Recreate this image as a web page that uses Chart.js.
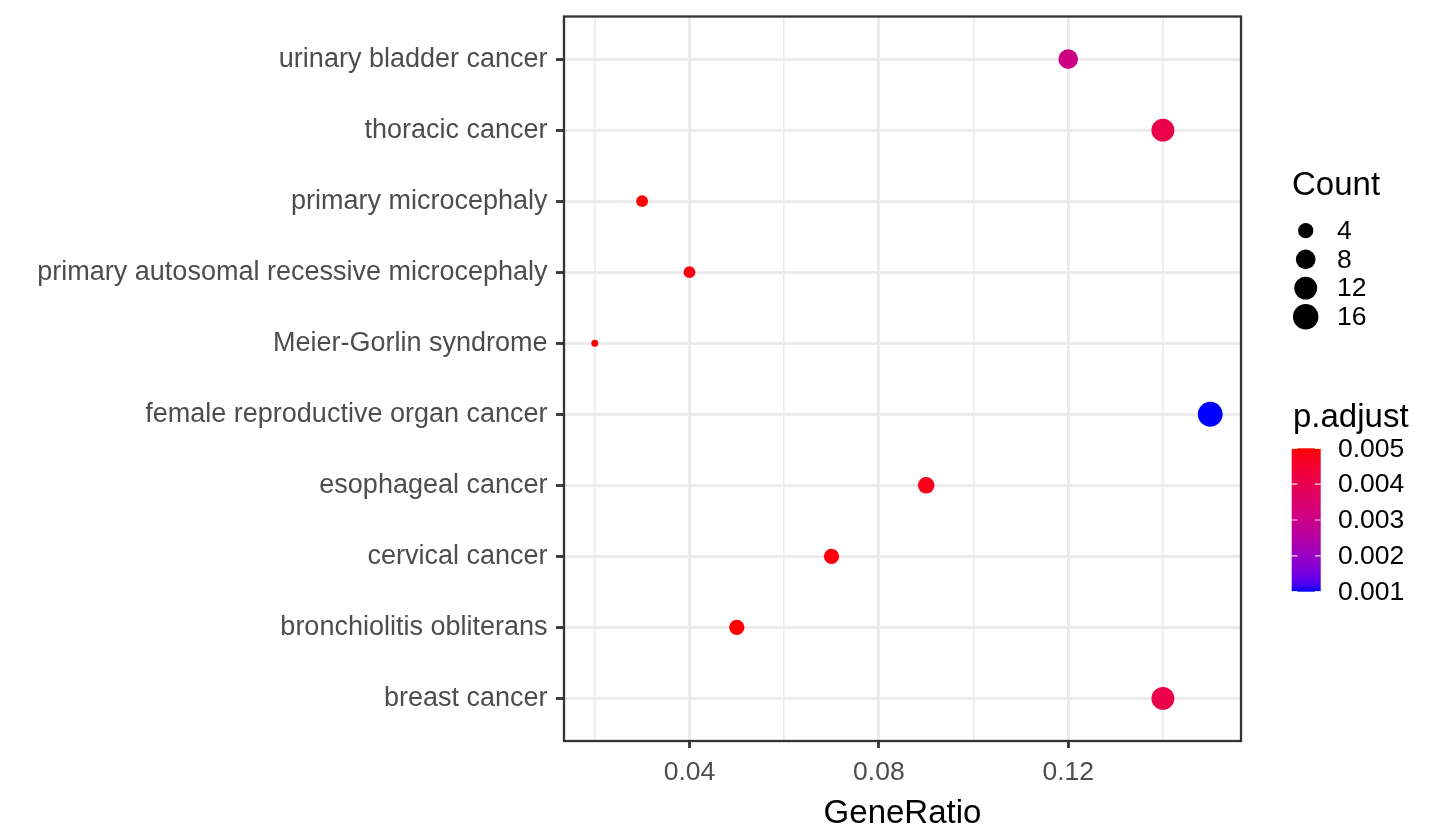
<!DOCTYPE html>
<html>
<head>
<meta charset="utf-8">
<script src="https://cdn.jsdelivr.net/npm/chart.js@4.4.1/dist/chart.umd.min.js"></script>
<style>
html,body{margin:0;padding:0;background:#fff;}
#wrap{width:1440px;height:840px;position:relative;}
</style>
</head>
<body>
<div id="wrap"><canvas id="c"></canvas></div>
<script>
// ---- data ----
const categories = ["urinary bladder cancer","thoracic cancer","primary microcephaly","primary autosomal recessive microcephaly","Meier-Gorlin syndrome","female reproductive organ cancer","esophageal cancer","cervical cancer","bronchiolitis obliterans","breast cancer"];
const geneRatio = [0.12, 0.14, 0.03, 0.04, 0.02, 0.15, 0.09, 0.07, 0.05, 0.14];
const counts = [8, 12, 2, 2, 1, 15, 5, 4, 4, 12];
const pAdjust = [0.0031, 0.0041, 0.0050, 0.0049, 0.0050, 0.0010, 0.0048, 0.0049, 0.0050, 0.0041];
const xMajorTicks = [0.04, 0.08, 0.12];
const xMinorTicks = [0.02, 0.06, 0.10, 0.14];
const countBreaks = [4, 8, 12, 16];
const countLimits = [1, 16];
const pBreaks = [0.005, 0.004, 0.003, 0.002, 0.001];

// ---- helpers ----
const FONT = '"Liberation Sans", Arial, sans-serif';
function toLin(c){c/=255;return c<=0.04045?c/12.92:Math.pow((c+0.055)/1.055,2.4);}
function toS(c){c=c<=0.0031308?12.92*c:1.055*Math.pow(c,1/2.4)-0.055;return Math.round(Math.max(0,Math.min(1,c))*255);}
function rgb2lab(rgb){
  const R=toLin(rgb[0]),G=toLin(rgb[1]),B=toLin(rgb[2]);
  const X=(0.4124*R+0.3576*G+0.1805*B)/0.95047,Y=(0.2126*R+0.7152*G+0.0722*B),Z=(0.0193*R+0.1192*G+0.9505*B)/1.08883;
  const f=t=>t>0.008856?Math.cbrt(t):(7.787*t+16/116);
  const fx=f(X),fy=f(Y),fz=f(Z);
  return [116*fy-16,500*(fx-fy),200*(fy-fz)];
}
function lab2rgb(lab){
  const fy=(lab[0]+16)/116,fx=fy+lab[1]/500,fz=fy-lab[2]/200;
  const inv=t=>{const t3=t*t*t;return t3>0.008856?t3:(t-16/116)/7.787;};
  const X=inv(fx)*0.95047,Y=inv(fy),Z=inv(fz)*1.08883;
  const R=3.2406*X-1.5372*Y-0.4986*Z,G=-0.9689*X+1.8758*Y+0.0415*Z,B=0.0557*X-0.2040*Y+1.0570*Z;
  return [toS(R),toS(G),toS(B)];
}
const LAB_HIGH = rgb2lab([255,0,0]);   // at max p
const LAB_LOW  = rgb2lab([0,0,255]);   // at min p
const pMin = Math.min(...pAdjust), pMax = Math.max(...pAdjust);
function colorFor(p){
  const t=(p-pMin)/(pMax-pMin);
  const lab=LAB_LOW.map((v,i)=>v+(LAB_HIGH[i]-v)*t);
  const c=lab2rgb(lab);
  return 'rgb('+c[0]+','+c[1]+','+c[2]+')';
}
const D_MIN = 7, D_MAX = 25.5;
function radiusFor(c){
  const t=Math.max(0,(c-countLimits[0])/(countLimits[1]-countLimits[0]));
  return (D_MIN+(D_MAX-D_MIN)*Math.sqrt(t))/2;
}
const xr = Math.max(...geneRatio)-Math.min(...geneRatio);
const xMin = Math.min(...geneRatio)-0.05*xr, xMax = Math.max(...geneRatio)+0.05*xr;
const isMajor = v => xMajorTicks.some(m=>Math.abs(m-v)<1e-9);

// ---- plugins ----
const panelBorder = {
  id:'panelBorder',
  afterDatasetsDraw(chart){
    const a=chart.chartArea, ctx=chart.ctx;
    ctx.save();
    ctx.strokeStyle='#333333'; ctx.lineWidth=2.3;
    ctx.strokeRect(a.left,a.top,a.right-a.left,a.bottom-a.top);
    ctx.restore();
  }
};
const legends = {
  id:'legends',
  afterDraw(chart){
    const ctx=chart.ctx;
    ctx.save();
    ctx.fillStyle='#000';
    ctx.textAlign='left';
    // Count legend
    ctx.font='33px '+FONT; ctx.textBaseline='alphabetic';
    ctx.fillText('Count',1292,195);
    countBreaks.forEach((c,i)=>{
      const y=230.7+i*28.7;
      ctx.beginPath(); ctx.arc(1305.7,y,radiusFor(c),0,Math.PI*2); ctx.fill();
      ctx.font='26.5px '+FONT; ctx.textBaseline='middle';
      ctx.fillText(String(c),1337,y+1);
    });
    // p.adjust legend
    ctx.font='33px '+FONT; ctx.textBaseline='alphabetic';
    ctx.fillText('p.adjust',1293,427);
    const x0=1291.7,x1=1320.7,top=448.3,bot=591.7;
    const g=ctx.createLinearGradient(0,top,0,bot);
    for(let k=0;k<=20;k++){ g.addColorStop(k/20,colorFor(pMax-(pMax-pMin)*k/20)); }
    ctx.fillStyle=g; ctx.fillRect(x0,top,x1-x0,bot-top);
    const w=(x1-x0)/5;
    ctx.strokeStyle='rgba(255,255,255,0.85)'; ctx.lineWidth=1.2;
    ctx.fillStyle='#000';
    ctx.font='26.5px '+FONT; ctx.textBaseline='middle';
    pBreaks.forEach(pb=>{
      const y=top+(pMax-pb)/(pMax-pMin)*(bot-top);
      ctx.beginPath();
      ctx.moveTo(x0,y); ctx.lineTo(x0+w,y);
      ctx.moveTo(x1-w,y); ctx.lineTo(x1,y);
      ctx.stroke();
      ctx.fillText(pb.toFixed(3),1338,y+1);
    });
    ctx.restore();
  }
};

// ---- chart ----
new Chart(document.getElementById('c'),{
  type:'scatter',
  data:{
    datasets:[{
      data: geneRatio.map((v,i)=>({x:v,y:i})),
      pointRadius: ctx=>radiusFor(counts[ctx.dataIndex]),
      pointHoverRadius: ctx=>radiusFor(counts[ctx.dataIndex]),
      pointBackgroundColor: ctx=>colorFor(pAdjust[ctx.dataIndex]),
      pointBorderWidth:0,
      pointHoverBorderWidth:0
    }]
  },
  options:{
    responsive:true, maintainAspectRatio:false, animation:false, events:[],
    layout:{padding:{left:0,right:199,top:16.5,bottom:0}},
    plugins:{legend:{display:false},tooltip:{enabled:false}},
    scales:{
      x:{
        type:'linear', min:xMin, max:xMax,
        afterBuildTicks: s=>{ s.ticks=[...xMinorTicks,...xMajorTicks].sort((a,b)=>a-b).map(v=>({value:v})); },
        afterFit: s=>{ s.height=99; s.paddingLeft=0; s.paddingRight=0; },
        border:{display:false},
        grid:{
          color:'#EBEBEB',
          lineWidth: c=> (c.tick && isMajor(c.tick.value)) ? 3 : 1.6,
          tickColor: c=> (c.tick && isMajor(c.tick.value)) ? '#333333' : 'rgba(0,0,0,0)',
          tickWidth: 2.8, tickLength:7, drawTicks:true
        },
        ticks:{
          autoSkip:false, maxRotation:0, padding:9,
          color:'#4D4D4D', font:{family:FONT,size:26.5},
          callback: v => isMajor(v) ? String(+v.toFixed(2)) : ''
        },
        title:{display:true,text:'GeneRatio',color:'#000',font:{family:FONT,size:33},padding:{top:0,bottom:6}}
      },
      y:{
        type:'linear', reverse:true, min:-0.6, max:categories.length-1+0.6,
        afterBuildTicks: s=>{ s.ticks=categories.map((_,i)=>({value:i})); },
        afterFit: s=>{ s.width=564; s.paddingTop=0; s.paddingBottom=0; },
        border:{display:false},
        grid:{color:'#EBEBEB',lineWidth:3,tickColor:'#333333',tickWidth:2.8,tickLength:8,drawTicks:true},
        ticks:{
          autoSkip:false, padding:8.5,
          color:'#4D4D4D', font:{family:FONT,size:27},
          callback: v => categories[v]
        }
      }
    }
  },
  plugins:[panelBorder,legends]
});
</script>
</body>
</html>
